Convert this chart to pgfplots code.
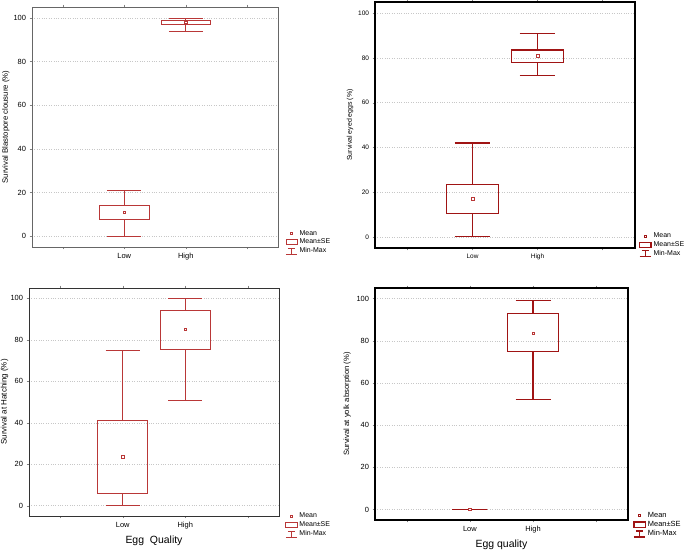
\documentclass[border=0pt]{standalone}
\usepackage{pgfplots}
\pgfplotsset{compat=1.18}
\usepgfplotslibrary{statistics}
\usepackage{fontspec}
\setmainfont{Liberation Sans}
\definecolor{dred}{RGB}{160,20,20}
\definecolor{lred}{RGB}{185,55,55}

\pgfplotsset{
  panel/.style={
    scale only axis, xmin=-0.5, xmax=3.5, ymin=-5, ymax=105,
    xtick={0,1,2,3}, xticklabels={,Low,High,},
    ytick={0,20,40,60,80,100},
    ymajorgrids, major grid style={dotted, black!22},
    tick align=outside, major tick length=2.5pt,
    ytick pos=left, xtick pos=both,
    /pgf/number format/assume math mode=true,
    tick label style={font=\fontsize{7.5}{8}\selectfont},
    xlabel style={font=\fontsize{10.5}{11}\selectfont},
    boxplot/draw direction=y, boxplot/box extend=0.8, boxplot/whisker extend=0.55,
    boxplot/draw/median/.code={},
    legend style={draw=none, fill=none, inner sep=0pt, anchor=north west,
      font=\fontsize{7}{8}\selectfont, row sep=-1.5pt},
    legend cell align=left,
  },
  ylabx/.style 2 args={every axis y label/.style={at={(axis description cs:#1,0.5)},
    rotate=90, anchor=center, font=\fontsize{#2}{#2}\selectfont}},
}
% legend images: mean, mean +- SE, min-max
\newcommand{\legendset}[2]{%
  \addlegendimage{legend image code/.code={\draw[#1, fill=white, line width=0.6pt] (0.2cm-1.2pt,-1.2pt) rectangle (0.2cm+1.2pt,1.2pt);}}
  \addlegendentry{Mean}
  \addlegendimage{legend image code/.code={\draw[#1, line width=#2] (0cm,-2.6pt) rectangle (0.4cm,2.6pt);}}
  \addlegendentry{Mean±SE}
  \addlegendimage{legend image code/.code={\draw[#1, line width=#2] (0.2cm,-3pt)--(0.2cm,3pt) (0.07cm,3pt)--(0.33cm,3pt) (0cm,-3pt)--(0.4cm,-3pt);}}
  \addlegendentry{Min-Max}
}

\begin{document}
\begin{tikzpicture}
\useasboundingbox (0,0) rectangle (685bp,550bp);

% top left: blastopore closure
\begin{axis}[panel, at={(32bp,303bp)}, anchor=south west, width=246bp, height=240bp,
  axis line style={black!60, line width=0.6pt},
  ylabx={-0.106}{7.8},
  ylabel={Survival Blastopore clousure (\%)},
  legend style={at={(1.03,0.079)}}]
\addplot[lred, line width=0.7pt, forget plot, boxplot prepared={draw position=1,
  lower whisker=0, lower quartile=7.5, median=7.5, upper quartile=14, upper whisker=21}] coordinates {};
\addplot[lred, line width=0.7pt, forget plot, boxplot prepared={draw position=2,
  lower whisker=94, lower quartile=97, median=97, upper quartile=99, upper whisker=100}] coordinates {};
\addplot[only marks, mark=square*, mark size=1.2pt, mark options={draw=lred, fill=white, line width=0.6pt}, forget plot]
  coordinates {(1,11) (2,98)};
\legendset{lred}{0.7pt}
\end{axis}

% top right: eyed eggs
\begin{axis}[panel, at={(375bp,302bp)}, anchor=south west, width=260bp, height=246bp,
  axis line style={black, line width=1.2pt},
  tick label style={font=\fontsize{6.5}{7}\selectfont},
  ylabx={-0.096}{7},
  ylabel={Survival eyed eggs (\%)},
  legend style={at={(1.015,0.07)}}]
\addplot[dred, line width=1.3pt, forget plot, boxplot prepared={draw position=1,
  lower whisker=0, lower quartile=10.5, median=10.5, upper quartile=23.5, upper whisker=42}] coordinates {};
\addplot[dred, line width=1.3pt, forget plot, boxplot prepared={draw position=2,
  lower whisker=72, lower quartile=78, median=78, upper quartile=83.5, upper whisker=91}] coordinates {};
\addplot[only marks, mark=square*, mark size=1.3pt, mark options={draw=lred, fill=white, line width=0.6pt}, forget plot]
  coordinates {(1,17) (2,81)};
\legendset{dred}{1.2pt}
\end{axis}

% bottom left: hatching
\begin{axis}[panel, at={(29bp,34bp)}, anchor=south west, width=250bp, height=228bp,
  axis line style={black!80, line width=0.7pt},
  ylabx={-0.098}{8},
  ylabel={Survival at Hatching (\%)},
  xlabel={Egg\ \ Quality},
  legend style={at={(1.025,0.022)}}]
\addplot[lred, line width=0.7pt, forget plot, boxplot prepared={draw position=1,
  lower whisker=0, lower quartile=6, median=6, upper quartile=41, upper whisker=75}] coordinates {};
\addplot[lred, line width=0.7pt, forget plot, boxplot prepared={draw position=2,
  lower whisker=51, lower quartile=75.5, median=75.5, upper quartile=94, upper whisker=100}] coordinates {};
\addplot[only marks, mark=square*, mark size=1.2pt, mark options={draw=lred, fill=white, line width=0.6pt}, forget plot]
  coordinates {(1,23.5) (2,85)};
\legendset{lred}{0.7pt}
\end{axis}

% bottom right: yolk absorption
\begin{axis}[panel, at={(375bp,30bp)}, anchor=south west, width=253bp, height=232bp,
  axis line style={black, line width=1.2pt},
  ylabx={-0.11}{7.7},
  ylabel={Survival at yolk absorption (\%)},
  xlabel={Egg quality},
  legend style={at={(1.02,0.043)}, font=\fontsize{7.5}{8}\selectfont}]
\addplot[dred, line width=1.3pt, forget plot, boxplot/box extend=0.55, boxplot prepared={draw position=1,
  lower whisker=0, lower quartile=0, median=0, upper quartile=0, upper whisker=0}] coordinates {};
\addplot[dred, line width=1.3pt, forget plot, boxplot prepared={draw position=2,
  lower whisker=52, lower quartile=75, median=75, upper quartile=93, upper whisker=99}] coordinates {};
\addplot[only marks, mark=square*, mark size=1.3pt, mark options={draw=lred, fill=white, line width=0.6pt}, forget plot]
  coordinates {(1,0) (2,83.5)};
\legendset{dred}{1.3pt}
\end{axis}
\end{tikzpicture}
\end{document}
